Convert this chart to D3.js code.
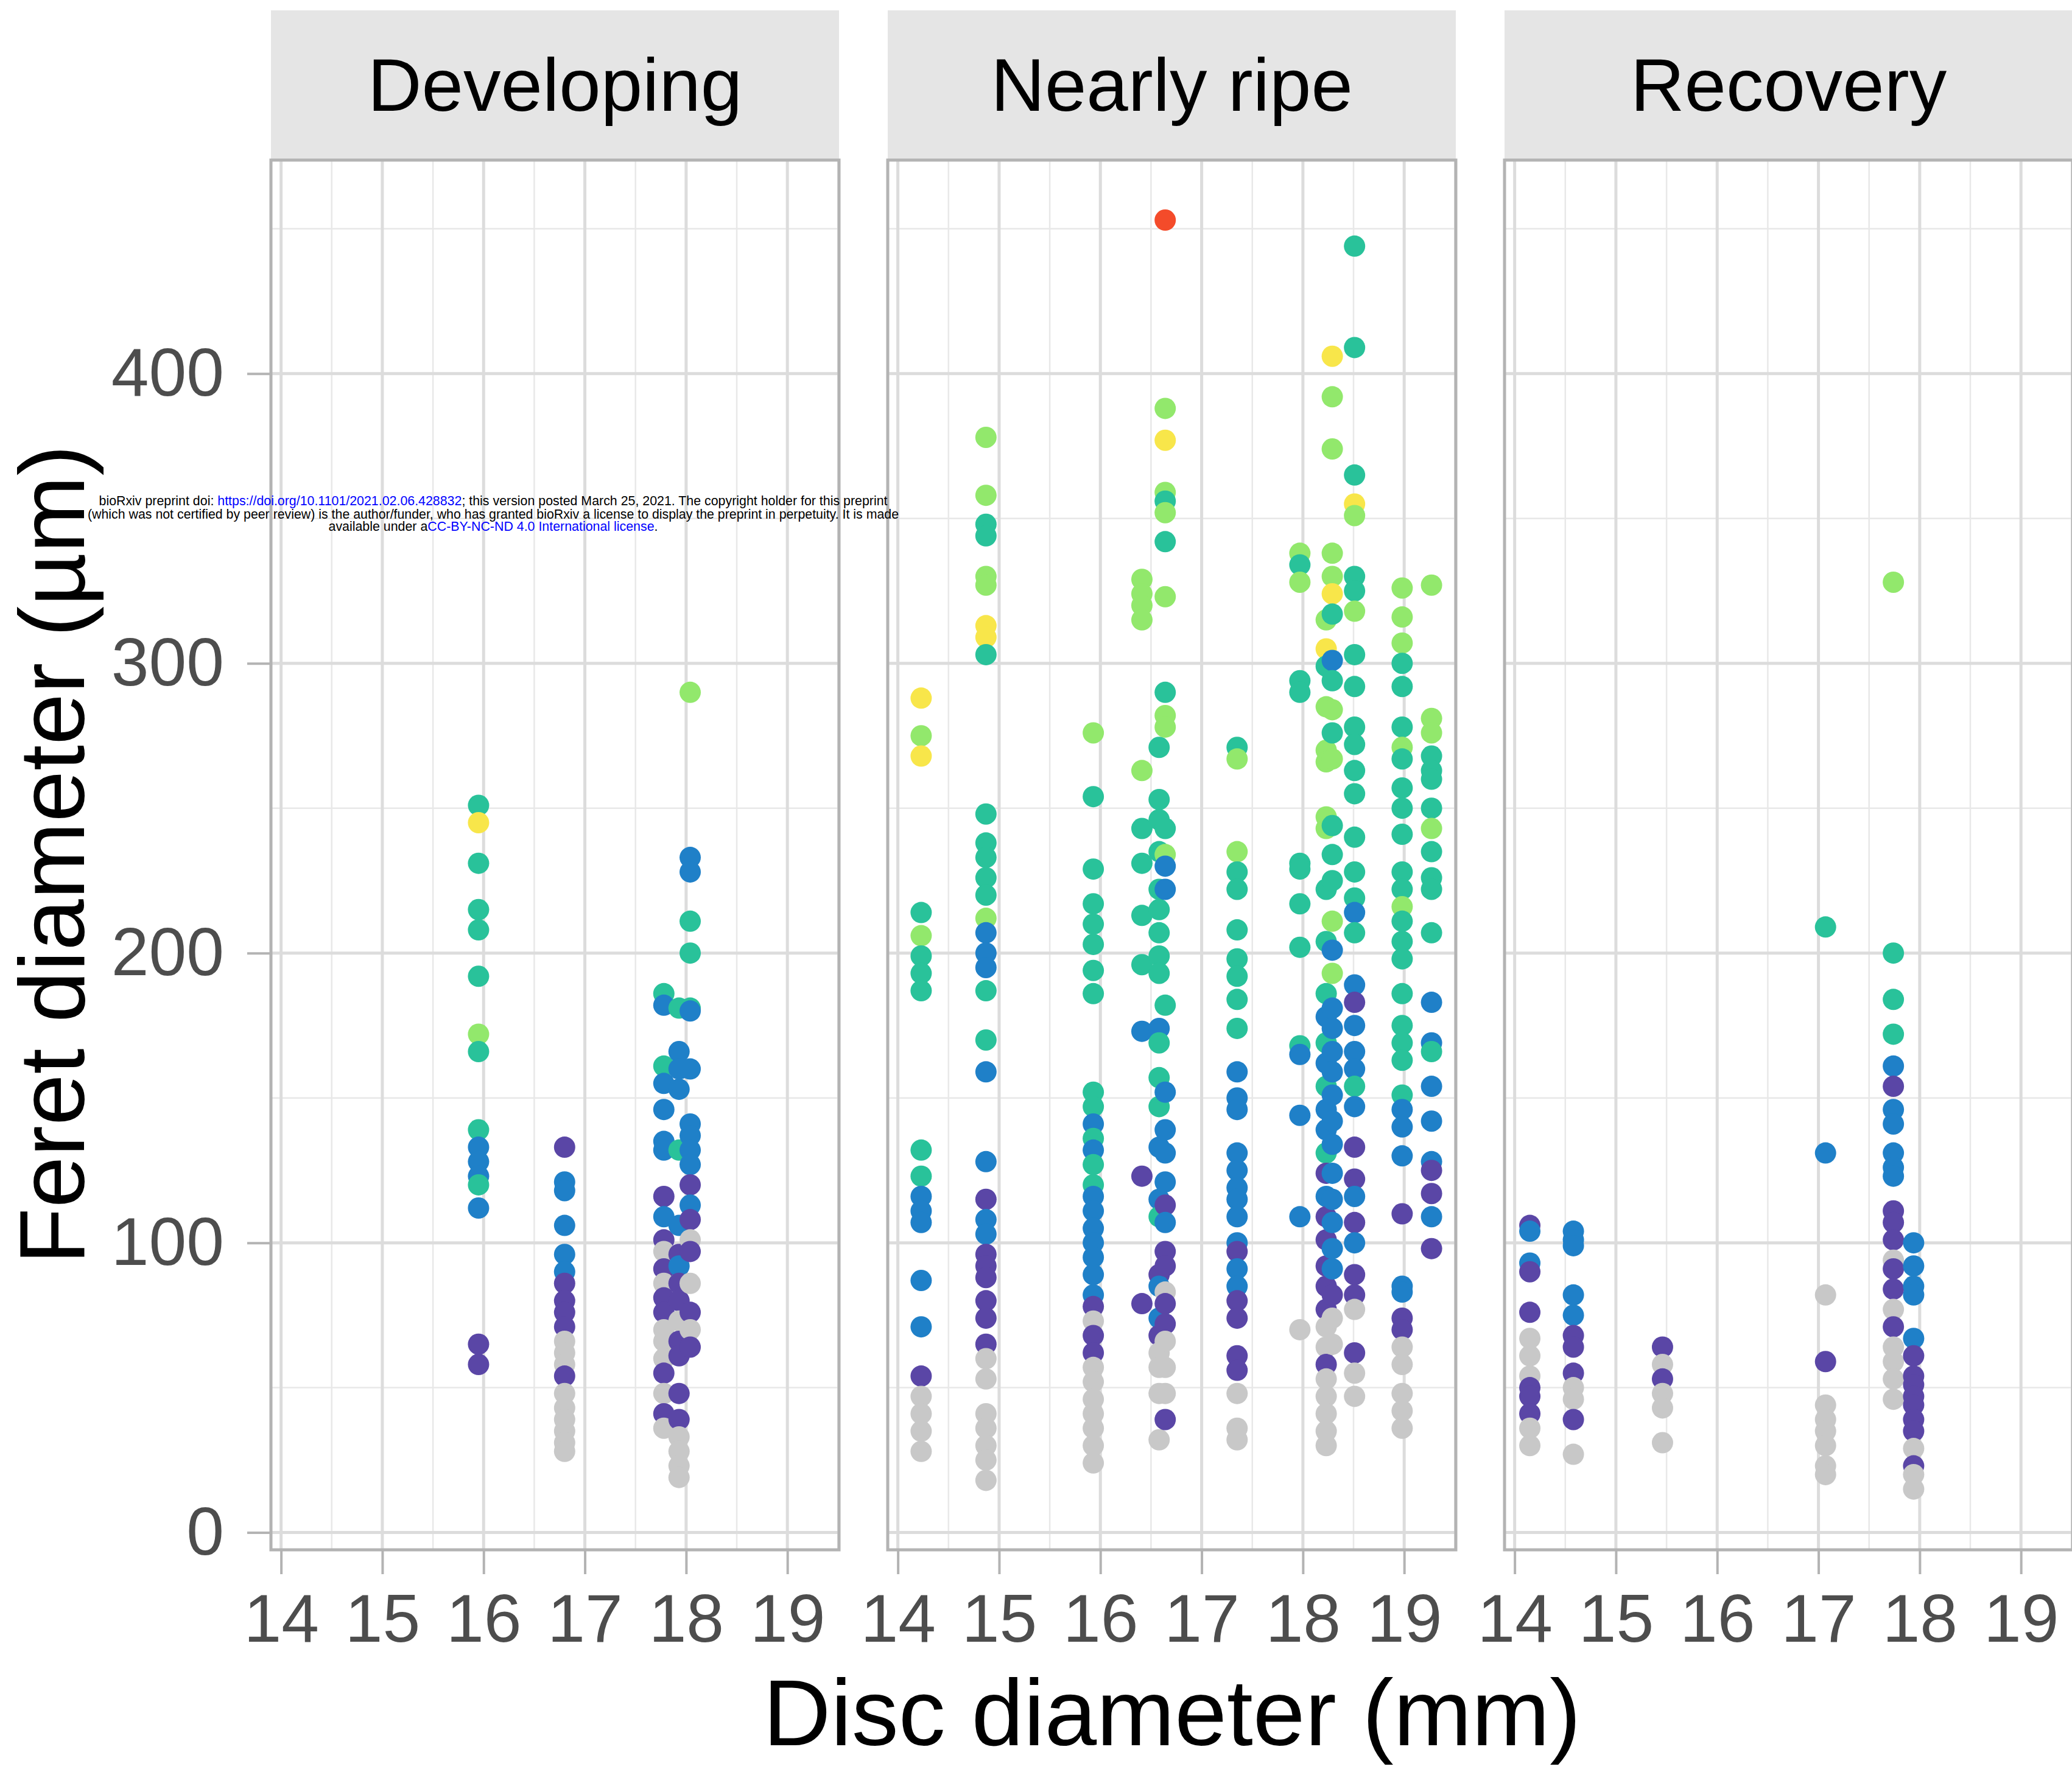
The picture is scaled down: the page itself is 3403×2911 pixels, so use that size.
<!DOCTYPE html>
<html lang="en">
<head>
<meta charset="UTF-8">
<title>Feret diameter vs disc diameter</title>
<script src="https://cdn.jsdelivr.net/npm/d3@7/dist/d3.min.js"></script>
<style>
  body { margin: 0; background: #fff; }
  svg { display: block; font-family: "Liberation Sans", Arial, Helvetica, sans-serif; }
</style>
</head>
<body>
<svg id="chart" width="3403" height="2911"></svg>
<script>
// facet names and axis ticks
var stages = ["Developing", "Nearly ripe", "Recovery"];
var xTicks = [14, 15, 16, 17, 18, 19];
var yTicks = [0, 100, 200, 300, 400];

// colour classes: grey, purple, blue, teal, green, yellow, red
var classes = ["C", "P", "B", "T", "G", "Y", "R"];
var classColours = ["#c8c8c8", "#5a46a6", "#1f80c8", "#29c29a", "#92e86c", "#f8e64a", "#f44b2a"];

// each column: [disc diameter, [[feret diameter, class], ...]]
var developing = [
  [15.95, [[251,'T'],[245,'Y'],[231,'T'],[215,'T'],[208,'T'],[192,'T'],[172,'G'],[166,'T'],[139,'T'],[133,'B'],[128,'B'],[123,'B'],[120,'T'],[112,'B'],[65,'P'],[58,'P']]],
  [16.80, [[133,'P'],[121,'B'],[118,'B'],[106,'B'],[96,'B'],[90,'B'],[86,'P'],[80,'P'],[76,'P'],[71,'P'],[66,'C'],[62,'C'],[58,'C'],[54,'P'],[48,'C'],[43,'C'],[39,'C'],[35,'C'],[31,'C'],[28,'C']]],
  [17.78, [[186,'T'],[182,'B'],[161,'T'],[155,'B'],[146,'B'],[135,'B'],[132,'B'],[116,'P'],[109,'B'],[101,'P'],[97,'C'],[91,'P'],[86,'C'],[81,'P'],[76,'P'],[70,'C'],[66,'C'],[60,'C'],[55,'P'],[48,'C'],[41,'P'],[36,'C']]],
  [17.93, [[181,'T'],[166,'B'],[160,'B'],[153,'B'],[132,'T'],[106,'B'],[96,'P'],[92,'B'],[86,'P'],[80,'P'],[73,'C'],[66,'P'],[61,'P'],[48,'P'],[39,'P'],[33,'C'],[28,'C'],[23,'C'],[19,'C']]],
  [18.04, [[290,'G'],[233,'B'],[228,'B'],[211,'T'],[200,'T'],[181,'T'],[180,'B'],[160,'B'],[141,'B'],[137,'B'],[132,'B'],[127,'B'],[120,'P'],[113,'B'],[108,'P'],[101,'C'],[97,'P'],[86,'C'],[76,'P'],[70,'C'],[64,'P']]]
];

var nearlyRipe = [
  [14.23, [[288,'Y'],[275,'G'],[268,'Y'],[214,'T'],[206,'G'],[199,'T'],[193,'T'],[187,'T'],[132,'T'],[123,'T'],[116,'B'],[111,'B'],[107,'B'],[87,'B'],[71,'B'],[54,'P'],[47,'C'],[41,'C'],[35,'C'],[28,'C']]],
  [14.87, [[378,'G'],[358,'G'],[348,'T'],[344,'T'],[330,'G'],[327,'G'],[313,'Y'],[309,'Y'],[303,'T'],[248,'T'],[238,'T'],[233,'T'],[226,'T'],[220,'T'],[212,'G'],[207,'B'],[200,'B'],[195,'B'],[187,'T'],[170,'T'],[159,'B'],[128,'B'],[115,'P'],[108,'B'],[103,'B'],[96,'P'],[92,'P'],[88,'P'],[80,'P'],[74,'P'],[65,'P'],[60,'C'],[53,'C'],[41,'C'],[36,'C'],[30,'C'],[25,'C'],[18,'C']]],
  [15.93, [[276,'G'],[254,'T'],[229,'T'],[217,'T'],[210,'T'],[203,'T'],[194,'T'],[186,'T'],[152,'T'],[147,'T'],[141,'B'],[136,'T'],[132,'B'],[127,'T'],[120,'T'],[116,'B'],[111,'B'],[105,'B'],[100,'B'],[95,'B'],[89,'B'],[82,'B'],[78,'P'],[73,'C'],[68,'P'],[62,'P'],[57,'C'],[52,'C'],[46,'C'],[41,'C'],[36,'C'],[30,'C'],[24,'C']]],
  [16.41, [[329,'G'],[324,'G'],[320,'G'],[315,'G'],[263,'G'],[243,'T'],[231,'T'],[213,'T'],[196,'T'],[173,'B'],[123,'P'],[79,'P']]],
  [16.58, [[271,'T'],[253,'T'],[246,'T'],[235,'T'],[222,'T'],[215,'T'],[207,'T'],[199,'T'],[193,'T'],[174,'B'],[169,'T'],[157,'T'],[147,'T'],[133,'B'],[115,'B'],[109,'T'],[89,'P'],[85,'B'],[74,'B'],[68,'P'],[62,'C'],[57,'C'],[48,'C'],[32,'C']]],
  [16.64, [[453,'R'],[388,'G'],[377,'Y'],[359,'G'],[356,'T'],[352,'G'],[342,'T'],[323,'G'],[290,'T'],[282,'G'],[278,'G'],[243,'T'],[234,'G'],[230,'B'],[222,'B'],[182,'T'],[152,'B'],[139,'B'],[131,'B'],[121,'B'],[113,'P'],[107,'B'],[97,'P'],[92,'P'],[83,'C'],[79,'P'],[72,'P'],[66,'C'],[57,'C'],[48,'C'],[39,'P']]],
  [17.35, [[271,'T'],[267,'G'],[235,'G'],[228,'T'],[222,'T'],[208,'T'],[198,'T'],[192,'T'],[184,'T'],[174,'T'],[159,'B'],[150,'B'],[146,'B'],[131,'B'],[125,'B'],[119,'B'],[115,'B'],[109,'B'],[100,'B'],[97,'P'],[91,'B'],[85,'B'],[80,'P'],[74,'P'],[61,'P'],[56,'P'],[48,'C'],[36,'C'],[32,'C']]],
  [17.97, [[338,'G'],[334,'T'],[328,'G'],[294,'T'],[290,'T'],[231,'T'],[229,'T'],[217,'T'],[202,'T'],[168,'T'],[165,'B'],[144,'B'],[109,'B'],[70,'C']]],
  [18.23, [[315,'G'],[305,'Y'],[299,'T'],[285,'G'],[270,'G'],[266,'G'],[247,'G'],[243,'G'],[222,'T'],[204,'T'],[186,'T'],[178,'B'],[169,'T'],[162,'B'],[154,'T'],[146,'B'],[139,'B'],[131,'T'],[124,'P'],[116,'B'],[109,'P'],[101,'P'],[92,'P'],[85,'P'],[77,'P'],[71,'C'],[64,'C'],[58,'P'],[53,'C'],[47,'C'],[41,'C'],[35,'C'],[30,'C']]],
  [18.29, [[406,'Y'],[392,'G'],[374,'G'],[338,'G'],[330,'G'],[324,'Y'],[317,'T'],[301,'B'],[294,'T'],[284,'G'],[276,'T'],[267,'G'],[244,'T'],[234,'T'],[225,'T'],[211,'G'],[201,'B'],[193,'G'],[181,'B'],[174,'B'],[166,'B'],[159,'B'],[151,'B'],[142,'B'],[134,'B'],[124,'B'],[115,'B'],[107,'B'],[98,'B'],[91,'B'],[82,'P'],[74,'C'],[65,'C']]],
  [18.51, [[444,'T'],[409,'T'],[365,'T'],[355,'Y'],[351,'G'],[330,'T'],[325,'T'],[318,'G'],[303,'T'],[292,'T'],[278,'T'],[272,'T'],[263,'T'],[255,'T'],[240,'T'],[228,'T'],[219,'T'],[214,'B'],[207,'T'],[189,'B'],[183,'P'],[175,'B'],[166,'B'],[160,'B'],[154,'T'],[147,'B'],[133,'P'],[122,'P'],[116,'B'],[107,'P'],[100,'B'],[89,'P'],[82,'P'],[77,'C'],[62,'P'],[55,'C'],[47,'C']]],
  [18.98, [[326,'G'],[316,'G'],[307,'G'],[300,'T'],[292,'T'],[278,'T'],[271,'G'],[267,'T'],[257,'T'],[250,'T'],[241,'T'],[228,'T'],[222,'T'],[216,'G'],[211,'T'],[204,'T'],[198,'T'],[186,'T'],[175,'T'],[169,'T'],[163,'T'],[151,'T'],[146,'B'],[140,'B'],[130,'B'],[110,'P'],[85,'B'],[83,'B'],[74,'P'],[70,'P'],[64,'C'],[58,'C'],[48,'C'],[42,'C'],[36,'C']]],
  [19.27, [[327,'G'],[281,'G'],[276,'G'],[268,'T'],[263,'T'],[260,'T'],[250,'T'],[243,'G'],[235,'T'],[226,'T'],[222,'T'],[207,'T'],[183,'B'],[169,'B'],[166,'T'],[154,'B'],[142,'B'],[128,'B'],[125,'P'],[117,'P'],[109,'B'],[98,'P']]]
];

var recovery = [
  [14.15, [[106,'P'],[104,'B'],[93,'B'],[90,'P'],[76,'P'],[67,'C'],[61,'C'],[54,'C'],[50,'P'],[47,'P'],[41,'P'],[36,'C'],[30,'C']]],
  [14.58, [[104,'B'],[101,'B'],[99,'B'],[82,'B'],[75,'B'],[68,'P'],[64,'P'],[55,'P'],[50,'C'],[46,'C'],[39,'P'],[27,'C']]],
  [15.46, [[64,'P'],[58,'C'],[53,'P'],[48,'C'],[43,'C'],[31,'C']]],
  [17.07, [[209,'T'],[131,'B'],[82,'C'],[59,'P'],[44,'C'],[39,'C'],[35,'C'],[30,'C'],[23,'C'],[20,'C']]],
  [17.74, [[328,'G'],[200,'T'],[184,'T'],[172,'T'],[161,'B'],[154,'P'],[146,'B'],[141,'B'],[131,'B'],[126,'B'],[123,'B'],[111,'P'],[107,'P'],[101,'P'],[94,'C'],[91,'P'],[84,'P'],[77,'C'],[71,'P'],[64,'C'],[59,'C'],[53,'C'],[46,'C']]],
  [17.94, [[100,'B'],[92,'B'],[85,'B'],[82,'B'],[67,'B'],[61,'P'],[54,'P'],[51,'P'],[47,'P'],[44,'P'],[39,'P'],[35,'P'],[29,'C'],[23,'P'],[20,'C'],[15,'C']]]
];

var panelData = [developing, nearlyRipe, recovery];

// layout
var panelLeft = 445, panelW = 933, panelGap = 80;
var stripTop = 17, panelTop = 263, panelBottom = 2546;

var x = d3.scaleLinear().domain([13.90, 19.51]).range([0, panelW]);
var y = d3.scaleLinear().domain([-5.97, 473.7]).range([panelBottom, panelTop]);
var colour = d3.scaleOrdinal().domain(classes).range(classColours);

var xMinor = xTicks.map(function (d) { return d + 0.5; });
var yMinor = [50, 150, 250, 350, 450];

var svg = d3.select("#chart");

stages.forEach(function (stage, i) {
  var g = svg.append("g")
    .attr("transform", "translate(" + (panelLeft + i * (panelW + panelGap)) + ",0)");

  // strip
  g.append("rect")
    .attr("x", 0).attr("y", stripTop)
    .attr("width", panelW).attr("height", panelTop - stripTop)
    .attr("fill", "#e5e5e5");
  g.append("text")
    .attr("x", panelW / 2).attr("y", 182)
    .attr("text-anchor", "middle")
    .attr("font-size", 123)
    .attr("fill", "#000")
    .text(stage);

  // grid
  g.selectAll(".vminor").data(xMinor).join("line")
    .attr("x1", x).attr("x2", x).attr("y1", panelTop).attr("y2", panelBottom)
    .attr("stroke", "#e8e8e8").attr("stroke-width", 2.5);
  g.selectAll(".hminor").data(yMinor).join("line")
    .attr("x1", 0).attr("x2", panelW).attr("y1", y).attr("y2", y)
    .attr("stroke", "#e8e8e8").attr("stroke-width", 2.5);
  g.selectAll(".vmajor").data(xTicks).join("line")
    .attr("x1", x).attr("x2", x).attr("y1", panelTop).attr("y2", panelBottom)
    .attr("stroke", "#dcdcdc").attr("stroke-width", 5);
  g.selectAll(".hmajor").data(yTicks).join("line")
    .attr("x1", 0).attr("x2", panelW).attr("y1", y).attr("y2", y)
    .attr("stroke", "#dcdcdc").attr("stroke-width", 5);

  // points
  var pts = [];
  panelData[i].forEach(function (col) {
    col[1].forEach(function (p) { pts.push({ disc: col[0], feret: p[0], cls: p[1] }); });
  });
  g.selectAll("circle").data(pts).join("circle")
    .attr("cx", function (d) { return x(d.disc); })
    .attr("cy", function (d) { return y(d.feret); })
    .attr("r", 17.5)
    .attr("fill", function (d) { return colour(d.cls); });

  // panel border
  g.append("rect")
    .attr("x", 0).attr("y", panelTop)
    .attr("width", panelW).attr("height", panelBottom - panelTop)
    .attr("fill", "none").attr("stroke", "#b3b3b3").attr("stroke-width", 5);

  // x axis
  var xa = g.append("g")
    .attr("transform", "translate(0," + panelBottom + ")")
    .call(d3.axisBottom(x).tickValues(xTicks).tickSize(40).tickPadding(32).tickFormat(d3.format("d")));
  xa.select(".domain").remove();
  xa.selectAll("line").attr("stroke", "#b3b3b3").attr("stroke-width", 4);
  xa.selectAll("text").attr("font-size", 111).attr("fill", "#4d4d4d").attr("font-family", null);

  if (i === 0) {
    var ya = g.append("g")
      .call(d3.axisLeft(y).tickValues(yTicks).tickSize(39).tickPadding(38).tickFormat(d3.format("d")));
    ya.select(".domain").remove();
    ya.selectAll("line").attr("stroke", "#b3b3b3").attr("stroke-width", 4);
    ya.selectAll("text").attr("font-size", 111).attr("fill", "#4d4d4d").attr("font-family", null);
  }
});

// axis titles
svg.append("text")
  .attr("x", 1925).attr("y", 2867)
  .attr("text-anchor", "middle")
  .attr("font-size", 154)
  .text("Disc diameter (mm)");

svg.append("text")
  .attr("transform", "translate(138,1404) rotate(-90)")
  .attr("text-anchor", "middle")
  .attr("font-size", 152)
  .text("Feret diameter (\u00b5m)");

// preprint notice
var notice = [
  { y: 830, w: 1295, parts: [["bioRxiv preprint doi: ", "#000"], ["https://doi.org/10.1101/2021.02.06.428832", "#0000ff"], ["; this version posted March 25, 2021. The copyright holder for this preprint", "#000"]] },
  { y: 852, w: 1332, parts: [["(which was not certified by peer review) is the author/funder, who has granted bioRxiv a license to display the preprint in perpetuity. It is made", "#000"]] },
  { y: 872, w: 541, parts: [["available under a", "#000"], ["CC-BY-NC-ND 4.0 International license", "#0000ff"], [".", "#000"]] }
];
notice.forEach(function (line) {
  var t = svg.append("text")
    .attr("x", 810 - line.w / 2).attr("y", line.y)
    .attr("font-size", 22)
    .attr("textLength", line.w)
    .attr("lengthAdjust", "spacingAndGlyphs");
  line.parts.forEach(function (p) {
    t.append("tspan").attr("fill", p[1]).text(p[0]);
  });
});
</script>
</body>
</html>
